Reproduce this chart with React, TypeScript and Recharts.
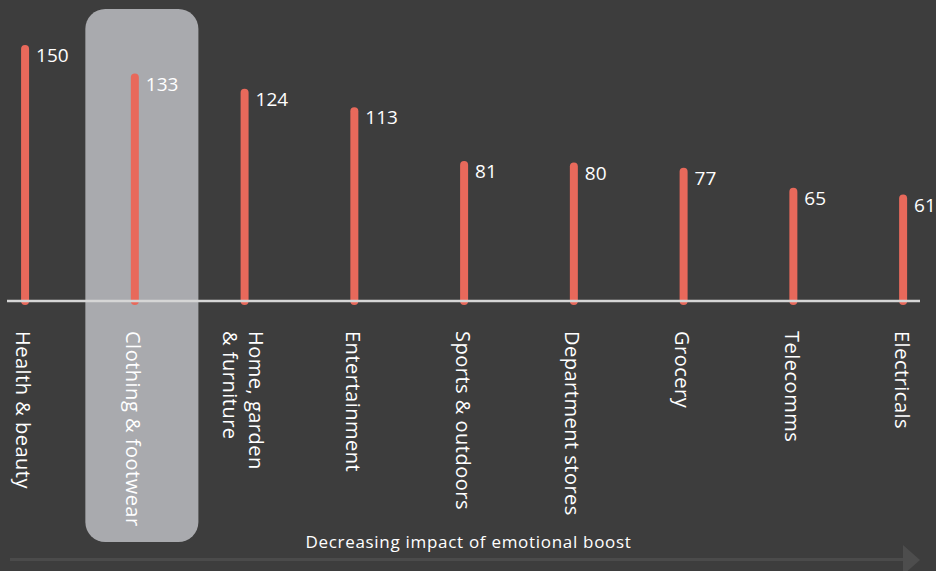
import React from 'react';
import { BarChart, Bar, XAxis, YAxis, ReferenceArea, LabelList, Label } from 'recharts';

const categories = [
  'Health & beauty',
  'Clothing & footwear',
  'Home, garden & furniture',
  'Entertainment',
  'Sports & outdoors',
  'Department stores',
  'Grocery',
  'Telecomms',
  'Electricals',
];
const values = [150, 133, 124, 113, 81, 80, 77, 65, 61];
const tickLines: Record<string, string[]> = {
  'Home, garden & furniture': ['Home, garden', '& furniture'],
};
const highlighted = 'Clothing & footwear';
const footerText = 'Decreasing impact of emotional boost';

const data = categories.map((c, i) => ({ name: c, value: values[i] }));

const BG = '#3d3d3d';
const BAR = '#e8695b';
const FONT = '"Open Sans", "Noto Sans", sans-serif';

const BarLine = (p: any) => {
  const cx = p.x + p.width / 2;
  return (
    <line x1={cx} x2={cx} y1={p.y} y2={p.y + p.height} stroke={BAR} strokeWidth={8} strokeLinecap="round" />
  );
};

const ValueLabel = (p: any) => {
  const cx = p.x + p.width / 2;
  return (
    <text x={cx + 11} y={p.y + 13} fill="#ffffff" fontSize={19} fontFamily={FONT}>
      {p.value}
    </text>
  );
};

const CategoryTick = (p: any) => {
  const name = p.payload.value as string;
  const lines = tickLines[name] || [name];
  const n = lines.length;
  return (
    <g transform={`translate(${p.x}, ${p.y + 30}) rotate(90)`}>
      <text x={0} y={0} fill="#ffffff" fontSize={20} letterSpacing={0.5} fontFamily={FONT} textAnchor="start">
        {lines.map((l, i) => (
          <tspan key={i} x={0} y={8.5 + (i - (n - 1) / 2) * 26}>
            {l}
          </tspan>
        ))}
      </text>
    </g>
  );
};

const HighlightShape = (p: any) => (
  <rect x={p.x + p.width * 0.05} y={p.y} width={p.width * 1.03} height={p.height} rx={20} ry={20} fill="#a9aaae" />
);

const Footer = (p: any) => {
  const vb = p.viewBox;
  const cx = vb.x + vb.width / 2 + 5;
  const right = vb.x + vb.width;
  return (
    <g>
      <text x={cx} y={548} textAnchor="middle" fill="#ffffff" fontSize={17} letterSpacing={0.7} fontFamily={FONT}>
        {footerText}
      </text>
      <line x1={vb.x + 3} x2={right - 15} y1={559.5} y2={559.5} stroke="#4b4b4b" strokeWidth={3} />
      <polygon points={`${right - 17},545 ${right},560 ${right - 17},575`} fill="#4d4d4d" />
    </g>
  );
};

export default function App() {
  return (
    <div style={{ position: 'absolute', left: 0, top: 0, width: 936, height: 571, background: BG, overflow: 'hidden' }}>
      <BarChart width={936} height={571} data={data} margin={{ top: 49, right: 16, bottom: 0, left: 7 }}>
        <YAxis hide domain={[0, 150]} />
        <ReferenceArea
          x1={highlighted}
          x2={highlighted}
          y1={-143.5}
          y2={173.8}
          ifOverflow="visible"
          shape={HighlightShape}
        />
        <XAxis
          dataKey="name"
          height={270}
          padding={{ left: -36.9, right: -37.9 }}
          interval={0}
          tickLine={false}
          tickSize={0}
          tickMargin={0}
          axisLine={{ stroke: '#d6d6d6', strokeWidth: 2.5 }}
          tick={<CategoryTick />}
        >
          <Label content={<Footer />} />
        </XAxis>
        <Bar dataKey="value" isAnimationActive={false} shape={<BarLine />}>
          <LabelList dataKey="value" content={<ValueLabel />} />
        </Bar>
      </BarChart>
    </div>
  );
}
